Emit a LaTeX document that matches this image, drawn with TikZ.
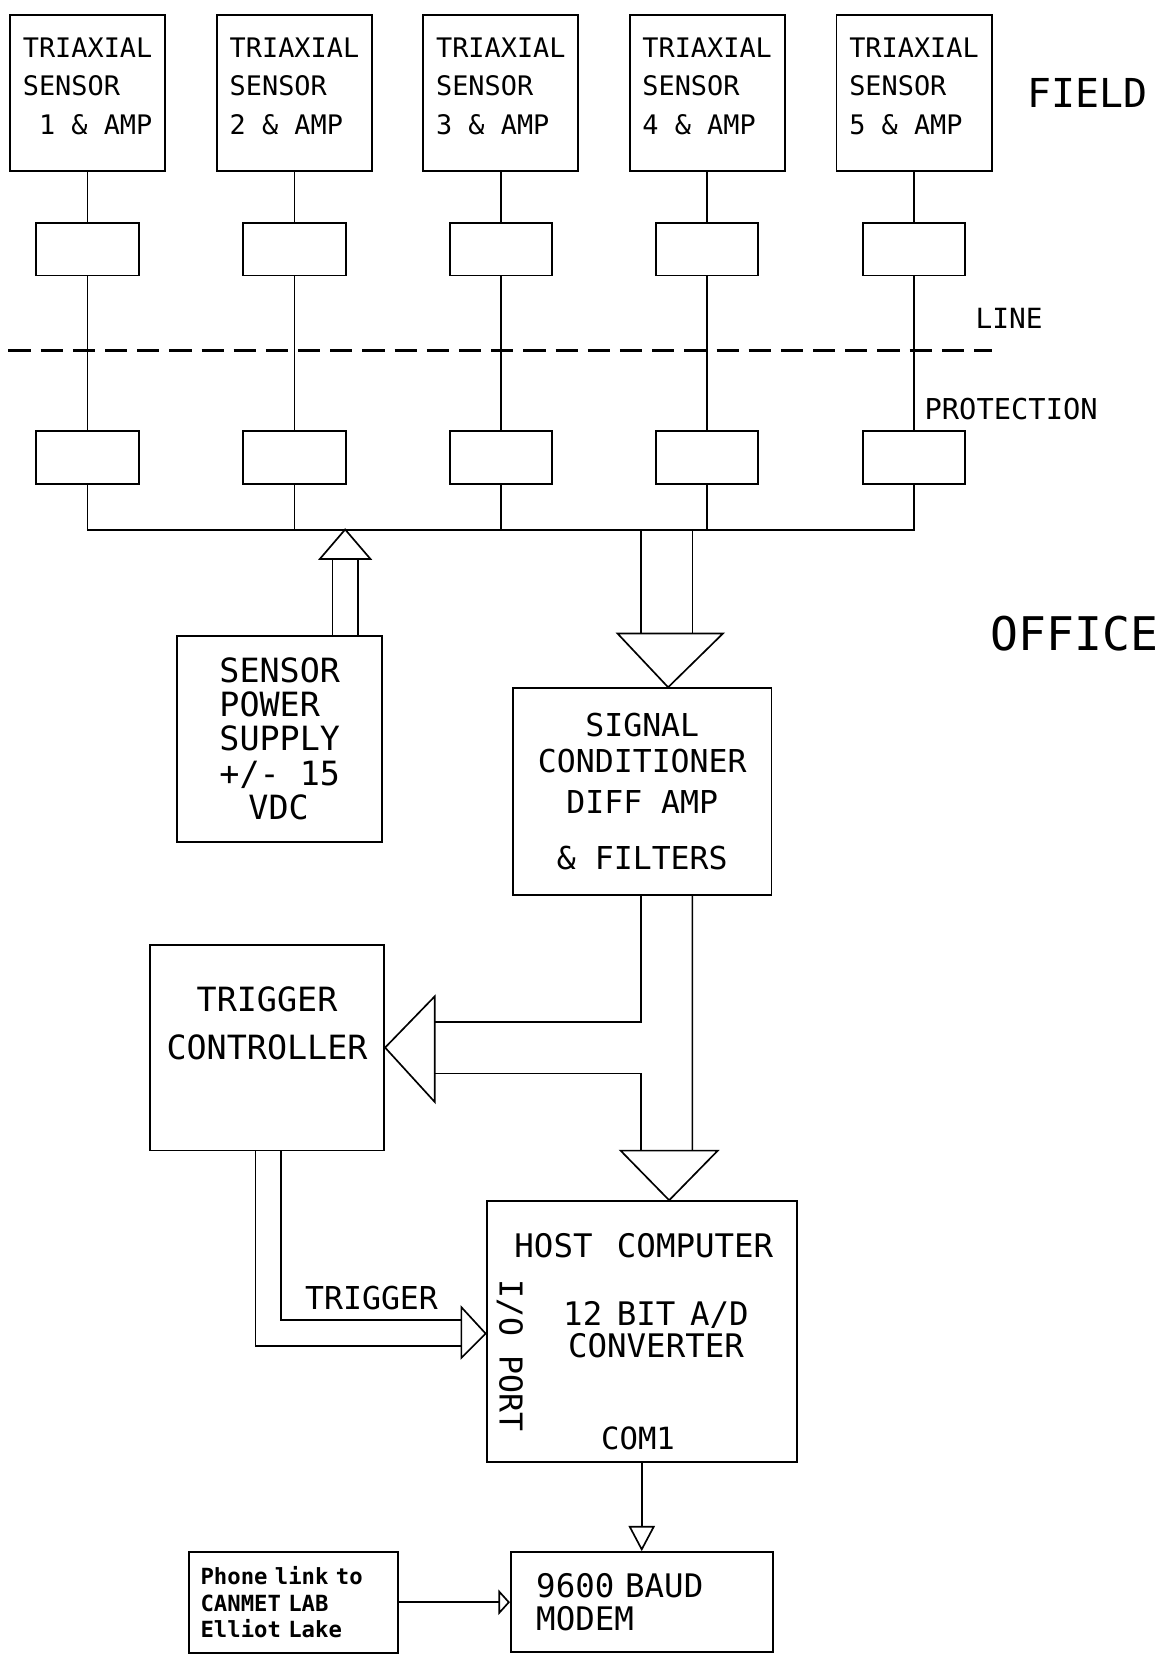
\documentclass[tikz,border=0pt]{standalone}
\usepackage{fontspec}
\setmainfont{DejaVu Sans Mono}
\usepackage{tikz}
\usetikzlibrary{%
  arrows.meta,
  positioning,
  calc}
\tikzset{
  %% Triaxial sensor heads (field side)
  sensorbox/.style={
    rectangle, draw=black, line width=1pt,
    minimum width=2.94cm, minimum height=2.95cm,
    text depth=0.26cm,
    align=left, font=\fontsize{14.5}{20.7}\selectfont},
  %% Line protection blocks
  protbox/.style={
    rectangle, draw=black, line width=1pt,
    minimum width=1.94cm, minimum height=1.0cm},
  %% Office equipment boxes
  unitbox/.style={
    rectangle, draw=black, line width=1pt,
    align=center, font=\fontsize{18}{26}\selectfont},
  %% Free labels
  taglabel/.style={inner sep=0pt, align=center,
    font=\fontsize{17}{18}\selectfont},
  zonelabel/.style={inner sep=0pt, font=\fontsize{25}{28}\selectfont},
  %% Wires and arrows
  wire/.style={line width=0.9pt, black},
  sepline/.style={line width=1.6pt, dash pattern=on 0.42cm off 0.19cm},
  harrow/.style={wire, -{Triangle[open, length=0.48cm, width=0.5cm]}},
  sarrow/.style={wire, -{Triangle[open, length=0.22cm, width=0.48cm]}},
}
\begin{document}
\begin{tikzpicture}[x=0.02cm, y=-0.02cm, node distance=0.40cm]

  \useasboundingbox (0,0) rectangle (1102,1568);

  %% Sensors
  \node[sensorbox] (s1) at (83,88)    {TRIAXIAL\\SENSOR\\\phantom{0}1 \& AMP};
  \node[sensorbox] (s2) at (279,88)   {TRIAXIAL\\SENSOR\\2 \& AMP};
  \node[sensorbox] (s3) at (474.5,88) {TRIAXIAL\\SENSOR\\3 \& AMP};
  \node[sensorbox] (s4) at (670,88)   {TRIAXIAL\\SENSOR\\4 \& AMP};
  \node[sensorbox] (s5) at (866,88)   {TRIAXIAL\\SENSOR\\5 \& AMP};

  %% Protection, field end
  \node[protbox, below=0.95cm of s1] (pu1) {};
  \node[protbox, below=0.95cm of s2] (pu2) {};
  \node[protbox, below=0.95cm of s3] (pu3) {};
  \node[protbox, below=0.95cm of s4] (pu4) {};
  \node[protbox, below=0.95cm of s5] (pu5) {};

  %% Protection, office end
  \node[protbox, below=2.91cm of pu1] (pl1) {};
  \node[protbox, below=2.91cm of pu2] (pl2) {};
  \node[protbox, below=2.91cm of pu3] (pl3) {};
  \node[protbox, below=2.91cm of pu4] (pl4) {};
  \node[protbox, below=2.91cm of pu5] (pl5) {};

  %% Zone labels
  \node[zonelabel, font=\fontsize{21.5}{24}\selectfont] (field) at (1030,88) {FIELD};
  \node[taglabel, font=\fontsize{15}{18}\selectfont] (line) at (956,302) {LINE};
  \node[taglabel, font=\fontsize{15.5}{18}\selectfont] (prot) at (958,388) {PROTECTION};
  \node[zonelabel] (office) at (1018,600) {OFFICE};

  \draw[sepline] (8,332) -- (940,332);

  %% Sensor lines
  \draw[wire] (s1) -- (pu1); \draw[wire] (pu1) -- (pl1);
  \draw[wire] (s2) -- (pu2); \draw[wire] (pu2) -- (pl2);
  \draw[wire] (s3) -- (pu3); \draw[wire] (pu3) -- (pl3);
  \draw[wire] (s4) -- (pu4); \draw[wire] (pu4) -- (pl4);
  \draw[wire] (s5) -- (pu5); \draw[wire] (pu5) -- (pl5);

  %% Bus
  \coordinate (bus) at (0,502);
  \draw[wire] (pl1.south) -- (pl1.south |- bus) -- (pl5.south |- bus) -- (pl5.south);
  \draw[wire] (pl2.south) -- (pl2.south |- bus);
  \draw[wire] (pl3.south) -- (pl3.south |- bus);
  \draw[wire] (pl4.south) -- (pl4.south |- bus);

  %% Office units
  \node[unitbox, minimum width=3.88cm, minimum height=3.9cm, align=left,
        font=\fontsize{18}{18.4}\selectfont] (psu) at (265,700)
        {SENSOR\\POWER\\SUPPLY\\+/- 15\\\hspace*{0.55cm}VDC};

  \node[unitbox, minimum width=4.9cm, minimum height=3.92cm,
        font=\fontsize{17}{19.3}\selectfont] (cond) at (608.5,750)
        {SIGNAL\\CONDITIONER\\[3pt]DIFF AMP\\[11pt]\& FILTERS};

  \node[unitbox, minimum width=4.44cm, minimum height=3.9cm] (trig) at (253,992.5)
        {TRIGGER\\CONTROLLER\\\mbox{}};

  \node[unitbox, minimum width=5.88cm, minimum height=4.94cm] (host) at (608,1261.5) {};
  \node[taglabel, font=\fontsize{17.5}{18}\selectfont] (hostname) at (610,1180)
        {HOST\hspace{0.75em}COMPUTER};
  \node[taglabel, font=\fontsize{17.5}{17.5}\selectfont] (adc) at (621.5,1260)
        {12\hspace{0.45em}BIT\hspace{0.45em}A/D\\CONVERTER};
  \node[taglabel, font=\fontsize{16.5}{18}\selectfont] (com) at (604.5,1363) {COM1};
  \node[taglabel, rotate=-90] (iop) at (483,1284) {I/O PORT};

  \node[unitbox, minimum width=4.96cm, minimum height=1.9cm, text width=4.0cm,
        inner xsep=0.48cm, align=left, font=\fontsize{17.5}{18.1}\selectfont]
        (modem) at (608,1518) {9600 BAUD\\MODEM};

  \node[unitbox, minimum width=3.96cm, minimum height=1.92cm, text width=3.52cm,
        inner xsep=0.22cm, align=left, font=\fontsize{12}{14.2}\selectfont\bfseries]
        (phone) at (278,1518) {Phone link to\\CANMET LAB\\Elliot Lake};

  %% Power feed up to the bus
  \draw[wire] ($(psu.north)+(50,0)$) -- ($(psu.north)+(50,-72)$);
  \draw[wire] ($(psu.north)+(74,0)$) -- ($(psu.north)+(74,-72)$);
  \draw[wire] ($(psu.north)+(38,-72)$) -- ($(psu.north)+(86,-72)$)
              -- ($(psu.north)+(62,-100)$) -- cycle;

  %% Signals down to the conditioner
  \draw[wire] ($(cond.north)+(-1.5,-51)$) -- ($(cond.north)+(-1.5,-150)$);
  \draw[wire] ($(cond.north)+(47.5,-51)$) -- ($(cond.north)+(47.5,-150)$);
  \draw[wire] ($(cond.north)+(-23.5,-51)$) -- ($(cond.north)+(76.5,-51)$)
              -- ($(cond.north)+(24.5,0)$) -- cycle;

  %% Conditioner to trigger controller and host
  \draw[wire] ($(cond.south)+(-1.5,0)$) |- ($(trig.east)+(47,-24.5)$);
  \draw[wire] ($(trig.east)+(47,24.5)$) -| ($(host.north)+(-1,-47)$);
  \draw[wire] ($(cond.south)+(47.5,0)$) -- ($(host.north)+(48,-47)$);
  \draw[wire] ($(trig.east)+(47,-48.5)$) -- ($(trig.east)+(47,51.5)$)
              -- (trig.east) -- cycle;
  \draw[wire] ($(host.north)+(-20,-47)$) -- ($(host.north)+(72,-47)$)
              -- ($(host.north)+(26,0)$) -- cycle;

  %% Trigger to I/O port
  \draw[wire] ($(trig.south)+(13,0)$) |- ($(host.west)+(-23,-11)$);
  \draw[wire] ($(trig.south)+(-11,0)$) |- ($(host.west)+(-23,14)$);
  \draw[wire] ($(host.west)+(-23,-23)$) -- ($(host.west)+(-23,25)$)
              -- ($(host.west)+(0,2)$) -- cycle;
  \node[taglabel] (trglbl) at (352,1230) {TRIGGER};

  %% Modem
  \draw[harrow] (host.south) -- (modem.north);
  \draw[sarrow] (phone.east) -- (modem.west);

\end{tikzpicture}
\end{document}
